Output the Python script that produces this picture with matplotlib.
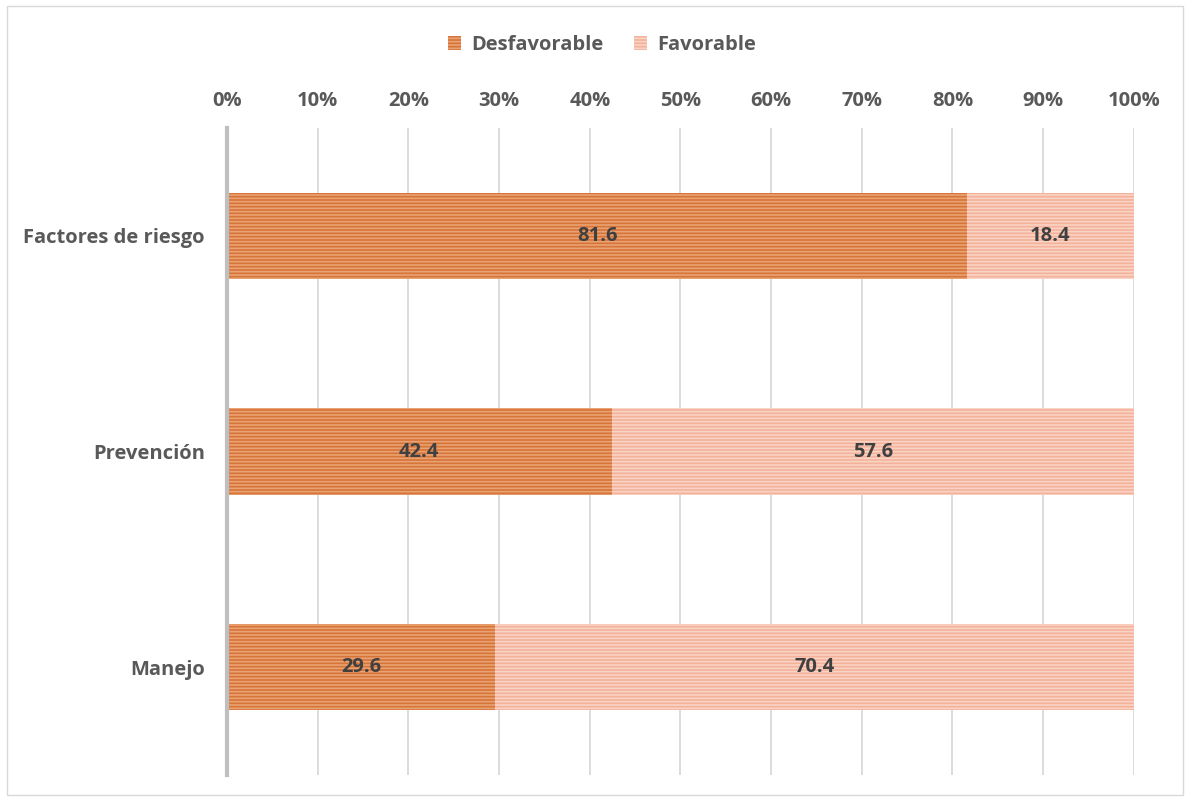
import matplotlib
matplotlib.use('Agg')

import matplotlib.pyplot as plt
import numpy as np
from matplotlib.patches import Rectangle

categories = ['Factores de riesgo', 'Prevención', 'Manejo']
desfavorable = [81.6, 42.4, 29.6]
favorable = [18.4, 57.6, 70.4]
series_names = ['Desfavorable', 'Favorable']
xticks = [0, 10, 20, 30, 40, 50, 60, 70, 80, 90, 100]

plt.rcParams['font.family'] = ['Open Sans', 'DejaVu Sans']
plt.rcParams['hatch.linewidth'] = 1.2

dark_face, dark_hatch = '#D6743A', '#E9A272'
light_face, light_hatch = '#F4B29A', '#F9D3C4'
text_col = '#595959'
fs = 14.5

fig = plt.figure(figsize=(11.9, 8.01), dpi=100)
ax = fig.add_axes([0.1908, 0.0325, 0.762, 0.8075])

y = np.arange(len(categories))
ax.barh(y, desfavorable, height=0.4, color=dark_face, edgecolor=dark_hatch,
        hatch='-----', linewidth=0, label=series_names[0], zorder=3)
ax.barh(y, favorable, left=desfavorable, height=0.4, color=light_face,
        edgecolor=light_hatch, hatch='-----', linewidth=0,
        label=series_names[1], zorder=3)

for i in range(len(categories)):
    ax.text(desfavorable[i] / 2, y[i], f'{desfavorable[i]:.1f}', ha='center',
            va='center', fontsize=fs, fontweight='bold', color='#404040', zorder=4)
    ax.text(desfavorable[i] + favorable[i] / 2, y[i], f'{favorable[i]:.1f}',
            ha='center', va='center', fontsize=fs, fontweight='bold',
            color='#404040', zorder=4)

ax.set_xlim(0, 100)
ax.set_ylim(2.5, -0.5)
ax.set_xticks(xticks)
ax.set_xticklabels([f'{t}%' for t in xticks])
ax.xaxis.tick_top()
ax.set_yticks(y)
ax.set_yticklabels(categories)
ax.tick_params(axis='both', length=0, labelsize=fs, labelcolor=text_col)
ax.tick_params(axis='x', pad=12)
ax.tick_params(axis='y', pad=16)
for lab in ax.get_xticklabels() + ax.get_yticklabels():
    lab.set_fontweight('bold')

ax.grid(axis='x', color='#D9D9D9', linewidth=1.3, zorder=0)
for s in ['top', 'right', 'bottom']:
    ax.spines[s].set_visible(False)
ax.spines['left'].set_color('#BFBFBF')
ax.spines['left'].set_linewidth(3)
ax.spines['left'].set_zorder(5)

leg = fig.legend(loc='center', bbox_to_anchor=(0.506, 0.944), ncol=2,
                 frameon=False, fontsize=fs, handlelength=0.65,
                 handleheight=0.65, columnspacing=1.5, handletextpad=0.5)
for t in leg.get_texts():
    t.set_color(text_col)
    t.set_fontweight('bold')

fig.patches.append(Rectangle((0.006, 0.008), 0.988, 0.984, transform=fig.transFigure,
                             fill=False, edgecolor='#D9D9D9', linewidth=1))

plt.savefig('out.png', dpi=100)
plt.close()
